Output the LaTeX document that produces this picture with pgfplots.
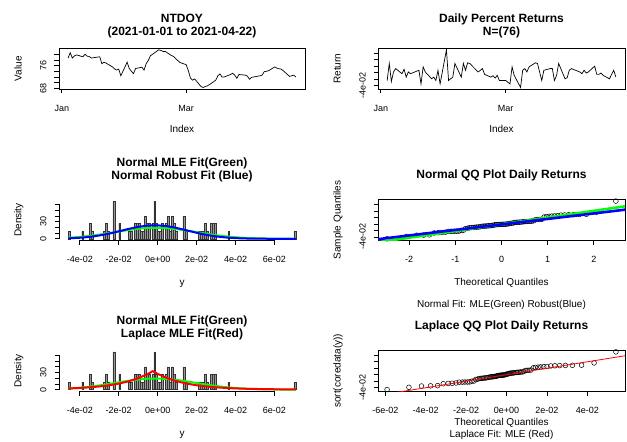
\documentclass[border=0pt]{standalone}
\usepackage{pgfplots}
\pgfplotsset{compat=1.18}
\usepackage{pgfplotstable}
\usepackage{fontspec}
\setmainfont{Liberation Sans}
\definecolor{Rgreen}{RGB}{0,255,0}
\definecolor{Rblue}{RGB}{0,0,255}
\definecolor{Rred}{RGB}{255,0,0}

% day offset from 2021-01-01, closing price
\pgfplotstableread{
d price
3 78.67
4 80.56
5 78.67
6 79.44
7 79.78
10 79.11
11 80.00
12 79.33
13 79.22
14 78.67
18 79.11
19 76.67
20 77.22
21 76.89
24 75.56
25 74.89
26 74.44
27 74.78
28 72.44
31 77.22
32 75.00
33 74.00
34 73.22
35 75.00
38 75.44
39 74.44
40 76.67
41 77.78
42 79.44
46 81.56
47 81.33
48 81.00
49 81.00
52 79.56
53 79.22
54 78.44
55 77.78
56 77.11
59 76.33
60 74.22
61 71.67
62 70.89
63 71.33
66 68.67
67 68.33
68 68.67
69 68.89
70 69.33
73 70.89
74 72.44
75 73.11
76 72.00
77 72.00
80 72.89
81 73.33
82 72.67
83 71.56
84 72.89
87 72.67
88 72.33
89 71.22
90 71.89
94 72.44
95 72.67
96 73.89
97 74.00
98 74.22
101 75.56
102 75.11
103 74.89
104 74.78
105 74.22
108 72.22
109 72.44
110 72.67
111 72.00
}\prices

\pgfplotstableread{
d r
3 -0.0244
4 0.0283
5 -0.0275
6 0.0020
7 0.0125
10 -0.0033
11 0.0104
12 -0.0139
13 0.0020
14 -0.0033
18 0.0072
19 -0.0349
20 0.0177
21 0.0020
24 -0.0191
25 -0.0139
26 -0.0244
27 0.0072
28 -0.0349
31 0.0706
32 -0.0244
33 -0.0191
34 -0.0139
35 0.0283
38 -0.0139
39 0.0283
40 0.0072
41 0.0304
42 0.0283
46 0.0020
47 0.0072
48 0.0125
49 -0.0054
52 -0.0139
53 -0.0096
54 -0.0170
55 -0.0086
56 -0.0244
59 -0.0244
60 -0.0296
61 -0.0349
62 0.0177
63 -0.0086
66 -0.0460
67 0.0072
68 0.0125
69 0.0020
70 0.0177
73 0.0304
74 0.0283
75 0.0020
76 -0.0244
77 0.0072
80 0.0125
81 0.0125
82 -0.0244
83 -0.0086
84 0.0283
87 -0.0191
88 -0.0160
89 0.0072
90 0.0125
94 0.0020
95 -0.0033
96 0.0072
97 -0.0012
98 0.0020
101 0.0199
102 -0.0054
103 -0.0054
104 -0.0012
105 -0.0086
108 -0.0191
109 -0.0054
110 0.0072
111 -0.0139
}\returns

% histogram: bin centre, density
\pgfplotstableread{
x dens
-0.0455 13.16
-0.0385 13.16
-0.0345 26.32
-0.0335 13.16
-0.0275 13.16
-0.0265 26.32
-0.0255 13.16
-0.0225 65.79
-0.0195 26.32
-0.0145 13.16
-0.0135 13.16
-0.0115 26.32
-0.0105 26.32
-0.0095 26.32
-0.0085 13.16
-0.0075 13.16
-0.0065 39.47
-0.0055 26.32
-0.0045 26.32
-0.0025 26.32
-0.0015 65.79
-0.0005 26.32
0.0005 13.16
0.0015 13.16
0.0025 26.32
0.0045 26.32
0.0055 39.47
0.0065 13.16
0.0075 39.47
0.0085 26.32
0.0095 13.16
0.0135 39.47
0.0145 13.16
0.0215 13.16
0.0225 13.16
0.0235 13.16
0.0245 26.32
0.0255 13.16
0.0275 26.32
0.0285 26.32
0.0295 26.32
0.0365 13.16
0.0705 13.16
}\hist

\pgfplotstableread{
x f
-0.046 1.81
-0.040 3.27
-0.035 5.00
-0.030 7.22
-0.025 9.84
-0.020 12.65
-0.015 15.33
-0.010 17.53
-0.005 18.91
0.000 19.25
0.005 18.48
0.010 16.74
0.015 14.29
0.020 11.53
0.025 8.76
0.030 6.28
0.035 4.25
0.040 2.71
0.045 1.63
0.050 0.93
0.055 0.50
0.060 0.25
0.065 0.12
0.071 0.05
}\normmle

\pgfplotstableread{
x f
-0.046 0.76
-0.040 1.81
-0.035 3.37
-0.030 5.76
-0.025 9.03
-0.020 12.99
-0.015 17.13
-0.010 20.71
-0.005 22.98
0.000 23.38
0.005 21.82
0.010 18.67
0.015 14.65
0.020 10.55
0.025 6.96
0.030 4.22
0.035 2.34
0.040 1.19
0.045 0.56
0.050 0.24
0.055 0.09
0.060 0.03
0.071 0.00
}\normrob

\pgfplotstableread{
x f
-0.046 1.95
-0.040 2.87
-0.035 3.96
-0.030 5.47
-0.025 7.55
-0.020 10.43
-0.015 14.40
-0.010 19.88
-0.005 27.46
-0.0025 32.26
0.000 27.46
0.005 19.88
0.010 14.40
0.015 10.43
0.020 7.55
0.025 5.47
0.030 3.96
0.035 2.87
0.040 2.08
0.045 1.50
0.050 1.09
0.060 0.57
0.071 0.28
}\laplace

% QQ: normal quantile, Laplace quantile, sorted return
\pgfplotstableread{
z lq y
-2.479 -0.0591 -0.0458
-2.060 -0.0483 -0.0387
-1.839 -0.0421 -0.0348
-1.684 -0.0376 -0.0343
-1.561 -0.0341 -0.0336
-1.458 -0.0313 -0.0277
-1.369 -0.0289 -0.0268
-1.289 -0.0269 -0.0262
-1.217 -0.0250 -0.0254
-1.150 -0.0234 -0.0229
-1.089 -0.0219 -0.0227
-1.031 -0.0206 -0.0225
-0.976 -0.0193 -0.0223
-0.924 -0.0182 -0.0221
-0.875 -0.0171 -0.0197
-0.828 -0.0161 -0.0193
-0.782 -0.0152 -0.0146
-0.738 -0.0143 -0.0134
-0.695 -0.0134 -0.0118
-0.654 -0.0127 -0.0112
-0.614 -0.0119 -0.0108
-0.574 -0.0112 -0.0102
-0.536 -0.0105 -0.0098
-0.498 -0.0098 -0.0092
-0.461 -0.0092 -0.0086
-0.425 -0.0086 -0.0074
-0.389 -0.0080 -0.0068
-0.353 -0.0074 -0.0065
-0.319 -0.0069 -0.0062
-0.284 -0.0064 -0.0058
-0.250 -0.0059 -0.0052
-0.216 -0.0054 -0.0048
-0.182 -0.0049 -0.0042
-0.149 -0.0044 -0.0028
-0.116 -0.0040 -0.0022
-0.083 -0.0035 -0.0019
-0.049 -0.0031 -0.0017
-0.016 -0.0027 -0.0015
0.016 -0.0023 -0.0013
0.049 -0.0019 -0.0011
0.083 -0.0015 -0.0008
0.116 -0.0010 -0.0003
0.149 -0.0006 0.0004
0.182 -0.0001 0.0016
0.216 0.0004 0.0023
0.250 0.0009 0.0028
0.284 0.0014 0.0043
0.319 0.0019 0.0048
0.353 0.0024 0.0052
0.389 0.0030 0.0055
0.425 0.0036 0.0058
0.461 0.0042 0.0066
0.498 0.0048 0.0072
0.536 0.0055 0.0075
0.574 0.0062 0.0078
0.614 0.0069 0.0083
0.654 0.0077 0.0087
0.695 0.0084 0.0096
0.738 0.0093 0.0132
0.782 0.0102 0.0135
0.828 0.0111 0.0138
0.875 0.0121 0.0146
0.924 0.0132 0.0213
0.976 0.0143 0.0226
1.031 0.0156 0.0234
1.089 0.0169 0.0242
1.150 0.0184 0.0248
1.217 0.0200 0.0254
1.289 0.0219 0.0272
1.369 0.0239 0.0277
1.458 0.0263 0.0283
1.561 0.0291 0.0288
1.684 0.0326 0.0292
1.839 0.0371 0.0297
2.060 0.0433 0.0365
2.479 0.0541 0.0705
}\qq

\pgfplotsset{
  rpanel/.style={
    scale only axis, height=40.7pt,
    scaled ticks=false,
    tick align=outside, tick pos=left,
    major tick length=4.5pt,
    tick style={black, line width=0.6pt},
    axis line style={black, line width=0.7pt},
    tick label style={font=\fontsize{9}{10}\selectfont, inner sep=0pt, black},
    xticklabel style={anchor=base, yshift=-18pt},
    yticklabel style={rotate=90, anchor=base, yshift=8pt},
    every axis x label/.style={at={(axis description cs:0.5,0)}, anchor=base, yshift=-44pt, font=\fontsize{10}{12}\selectfont, inner sep=0pt},
    every axis y label/.style={at={(axis description cs:0,0.5)}, rotate=90, anchor=base, yshift=37.5pt, font=\fontsize{10}{12}\selectfont, inner sep=0pt},
    every axis title/.style={at={(axis description cs:0.5,1)}, anchor=base, align=center, font=\fontsize{12}{13.5}\selectfont\bfseries, inner sep=0pt},
  },
  rdate/.style={rpanel, width=#1, xmin=-1.32, xmax=115.32, xtick={0,59}, xticklabels={Jan,Mar}, xlabel={Index}},
  rhist/.style={rpanel, width=246pt, axis line style={draw=none}, clip=false,
    xmin=-0.05068, xmax=0.07568, ymin=-2.63, ymax=68.42,
    xtick={-0.04,-0.02,0,0.02,0.04,0.06},
    xticklabels={-4e-02,-2e-02,0e+00,2e-02,4e-02,6e-02},
    ytick={0,10,20,30,40,50,60}, yticklabels={0,,,30,,,},
    xlabel={y}, ylabel={Density},
    every axis x label/.append style={yshift=-1.5pt}},
  rret/.style={ytick={-0.04,-0.02,0,0.02,0.04,0.06}, yticklabels={-4e-02,,,,,}},
  rbars/.style={ybar, bar width=0.001, bar shift=0pt, draw=black!80, fill=black!40, line width=0.45pt},
}

\begin{document}
\begin{tikzpicture}
\useasboundingbox (0,0) rectangle (627pt,442pt);

% ---- top left: price
\begin{axis}[rdate=246pt, at={(59pt,353pt)}, anchor=south west,
  ymin=67.80, ymax=82.09, ytick={68,70,72,74,76,78,80}, yticklabels={68,,,,76,,},
  ylabel={Value}, title={NTDOY\\(2021-01-01 to 2021-04-22)}, title style={yshift=12.5pt}]
\addplot[black, line width=0.7pt] table[x=d, y=price] {\prices};
\end{axis}

% ---- top right: returns
\begin{axis}[rdate=247pt, rret, at={(378pt,353pt)}, anchor=south west,
  ymin=-0.05066, ymax=0.07526,
  ylabel={Return}, title={Daily Percent Returns\\N=(76)}, title style={yshift=12.5pt}]
\addplot[black, line width=0.7pt] table[x=d, y=r] {\returns};
\end{axis}

% ---- middle left: histogram, normal fits
\begin{axis}[rhist, at={(59pt,201.7pt)}, anchor=south west,
  title={Normal MLE Fit(Green)\\Normal Robust Fit (Blue)}, title style={yshift=20pt}]
\addplot[rbars] table[x=x, y=dens] {\hist};
\addplot[Rgreen, line width=2pt, smooth] table[x=x, y=f] {\normmle};
\addplot[Rblue, line width=2pt, smooth] table[x=x, y=f] {\normrob};
\draw[black, line width=0.7pt] (axis cs:-0.04,-2.63) -- (axis cs:0.06,-2.63);
\draw[black, line width=0.7pt] (axis cs:-0.05068,0) -- (axis cs:-0.05068,60);
\end{axis}

% ---- middle right: normal QQ
\begin{axis}[rpanel, rret, width=247pt, at={(378pt,201.7pt)}, anchor=south west,
  clip mode=individual,
  xmin=-2.677, xmax=2.677, ymin=-0.05045, ymax=0.07515,
  xtick={-2,-1,0,1,2}, xticklabels={-2,-1,0,1,2},
  xlabel={Theoretical Quantiles}, ylabel={Sample Quantiles},
  every axis x label/.append style={yshift=-1.7pt},
  title={Normal QQ Plot Daily Returns}, title style={yshift=21.1pt}]
\addplot[only marks, mark=o, mark size=2.4pt, black, mark options={line width=0.5pt}] table[x=z, y=y] {\qq};
\addplot[Rgreen, line width=2.6pt] coordinates {(-2.8,-0.05896) (2.8,0.05696)};
\addplot[Rblue, line width=2.6pt] coordinates {(-2.8,-0.0491) (2.8,0.0461)};
\node[anchor=base, yshift=-67.7pt, inner sep=0pt, font=\fontsize{10}{12}\selectfont] at (axis description cs:0.5,0) {Normal Fit: MLE(Green) Robust(Blue)};
\end{axis}

% ---- bottom left: histogram, normal and Laplace fits
\begin{axis}[rhist, at={(59pt,50.9pt)}, anchor=south west,
  title={Normal MLE Fit(Green)\\Laplace MLE Fit(Red)}, title style={yshift=12.9pt}]
\addplot[rbars] table[x=x, y=dens] {\hist};
\addplot[Rgreen, line width=2pt, smooth] table[x=x, y=f] {\normmle};
\addplot[Rred, line width=2pt] table[x=x, y=f] {\laplace};
\draw[black, line width=0.7pt] (axis cs:-0.04,-2.63) -- (axis cs:0.06,-2.63);
\draw[black, line width=0.7pt] (axis cs:-0.05068,0) -- (axis cs:-0.05068,60);
\end{axis}

% ---- bottom right: Laplace QQ
\begin{axis}[rpanel, rret, width=247pt, at={(378pt,50.9pt)}, anchor=south west,
  clip mode=individual,
  xmin=-0.0636, xmax=0.0586, ymin=-0.05045, ymax=0.07515,
  xtick={-0.06,-0.04,-0.02,0,0.02,0.04},
  xticklabels={-6e-02,-4e-02,-2e-02,0e+00,2e-02,4e-02},
  xlabel={Theoretical Quantiles}, ylabel={sort(coredata(y))},
  every axis x label/.append style={yshift=9.1pt},
  title={Laplace QQ Plot Daily Returns}, title style={yshift=20.4pt}]
\addplot[only marks, mark=o, mark size=2.4pt, black, mark options={line width=0.5pt}] table[x=lq, y=y] {\qq};
\addplot[Rred, line width=0.8pt] coordinates {(-0.07,-0.07) (0.07,0.07)};
\node[anchor=base, yshift=-46.4pt, inner sep=0pt, font=\fontsize{10}{12}\selectfont] at (axis description cs:0.5,0) {Laplace Fit: MLE (Red)};
\end{axis}
\end{tikzpicture}
\end{document}
